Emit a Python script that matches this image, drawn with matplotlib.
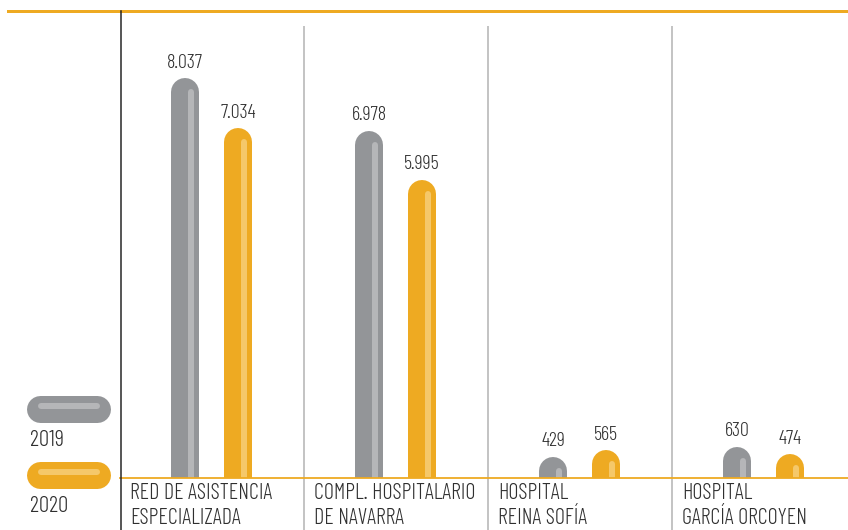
import matplotlib.pyplot as plt
from matplotlib.lines import Line2D
from matplotlib import font_manager

# ================================
# DATA
# ================================
categories = ["RED DE ASISTENCIA\nESPECIALIZADA",
              "COMPL. HOSPITALARIO\nDE NAVARRA",
              "HOSPITAL\nREINA SOFÍA",
              "HOSPITAL\nGARCÍA ORCOYEN"]
values_2019 = [8037, 6978, 429, 630]
values_2020 = [7034, 5995, 565, 474]
labels_2019 = ["8.037", "6.978", "429", "630"]
labels_2020 = ["7.034", "5.995", "565", "474"]
years = ["2019", "2020"]

# ================================
# STYLE
# ================================
GREY = "#939598"
GREY_HI = "#b5b6b8"
ORANGE = "#eeaa22"
ORANGE_HI = "#f5c86a"
TEXT = "#2f2f2f"

installed = {f.name for f in font_manager.fontManager.ttflist}
wanted = ["Barlow Condensed", "Roboto Condensed", "Barlow Semi Condensed",
          "IBM Plex Sans Condensed", "Open Sans Condensed"]
FONT = [f for f in wanted if f in installed][:1] + ["DejaVu Sans"]
WEIGHT = 300

W, H = 848, 530
DPI = 100
px = 72 / DPI  # points per pixel

fig = plt.figure(figsize=(W / DPI, H / DPI), dpi=DPI)

# axes: x from pixel 120 to 848, y from baseline 478 up to 10
ax_left, ax_right = 120, 848
ax_bottom, ax_top = 478, 10
ax = fig.add_axes([ax_left / W, (H - ax_bottom) / H,
                   (ax_right - ax_left) / W, (ax_bottom - ax_top) / H])
ax.set_axis_off()
cat_w = 184
ax.set_xlim(0, (ax_right - ax_left) / cat_w)
ymax = 9400
ax.set_ylim(0, ymax)
unit_per_px = ymax / (ax_bottom - ax_top)

bar_px = 28
stripe_px = 6
r = bar_px / 2


def draw_bar(x, v, color, hi):
    top = v - r * unit_per_px
    ax.add_line(Line2D([x, x], [-2000, top], lw=bar_px * px, color=color,
                       solid_capstyle="round", clip_on=True))
    xs = x + 5.5 / cat_w
    stop = v - (11 + stripe_px / 2) * unit_per_px
    if stop > 0:
        ax.add_line(Line2D([xs, xs], [-2000, stop], lw=stripe_px * px, color=hi,
                           solid_capstyle="round", clip_on=True))


for i in range(len(categories)):
    xg = i + 65 / cat_w
    xo = i + 118 / cat_w
    draw_bar(xg, values_2019[i], GREY, GREY_HI)
    draw_bar(xo, values_2020[i], ORANGE, ORANGE_HI)
    ax.annotate(labels_2019[i], (xg, values_2019[i]), xytext=(0, 4.5), textcoords="offset points",
                ha="center", va="bottom", fontsize=14.5, color=TEXT, family=FONT, weight=WEIGHT)
    ax.annotate(labels_2020[i], (xo, values_2020[i]), xytext=(0, 4.5), textcoords="offset points",
                ha="center", va="bottom", fontsize=14.5, color=TEXT, family=FONT, weight=WEIGHT)
    ax.text(i + 10 / cat_w, -5 * unit_per_px, categories[i], ha="left", va="top",
            fontsize=16, color=TEXT, family=FONT, weight=WEIGHT, linespacing=1.22,
            clip_on=False)
    if i > 0:
        ax.plot([i, i], [-60 * unit_per_px, (ax_bottom - 27) * unit_per_px],
                color="#c4c4c4", lw=2 * px, clip_on=False, zorder=0)

# baseline
ax.plot([0, 10], [0, 0], color=ORANGE, lw=1.8 * px, clip_on=False, zorder=3)

# top rule and left black rule (figure pixel coords)
fig.add_artist(Line2D([8 / W, 1], [1 - 10.5 / H] * 2, lw=3 * px, color=ORANGE,
                      transform=fig.transFigure))
fig.add_artist(Line2D([120.5 / W] * 2, [0, 1 - 11 / H], lw=1.5 * px, color="#222222",
                      transform=fig.transFigure))

# legend pills
for color, hi, yc, lab in [(GREY, GREY_HI, 409, years[0]), (ORANGE, ORANGE_HI, 475, years[1])]:
    fig.add_artist(Line2D([40 / W, 97 / W], [1 - yc / H] * 2, lw=27 * px, color=color,
                          solid_capstyle="round", transform=fig.transFigure))
    fig.add_artist(Line2D([41 / W, 97 / W], [1 - (yc - 3) / H] * 2, lw=6 * px, color=hi,
                          solid_capstyle="round", transform=fig.transFigure))
    fig.text(30 / W, 1 - (yc + 37) / H, lab, ha="left", va="baseline", fontsize=16.5,
             color=TEXT, family=FONT, weight=WEIGHT)

fig.savefig("out.png", dpi=DPI)
